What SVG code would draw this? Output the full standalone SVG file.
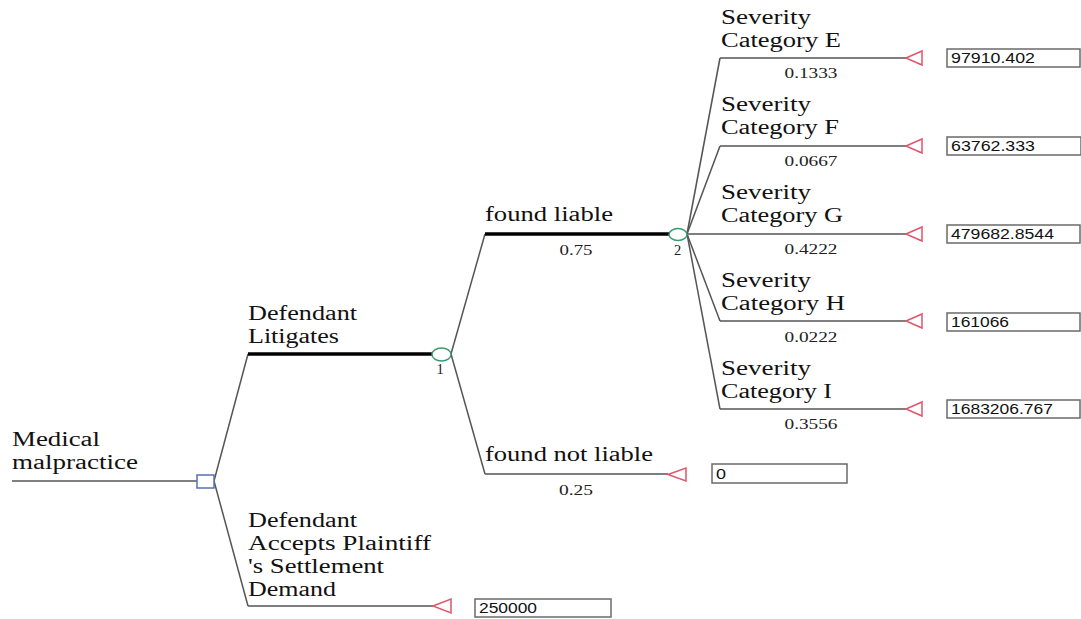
<svg xmlns="http://www.w3.org/2000/svg" width="1081" height="619" viewBox="0 0 1081 619">
<style>
.lbl{font-family:"Liberation Serif","Times New Roman",serif;font-size:20.5px;fill:#111}
.pr{font-family:"Liberation Serif","Times New Roman",serif;font-size:14.5px;fill:#222}
.val{font-family:"Liberation Sans",Arial,sans-serif;font-size:14px;fill:#111}
.ln{stroke:#555;stroke-width:1.5;fill:none}
.thick{stroke:#000;stroke-width:3.5;fill:none}
.tri{fill:#fff;stroke:#e0566a;stroke-width:1.5}
.box{fill:#fff;stroke:#6a6a6a;stroke-width:1.5}
.chance{fill:#fff;stroke:#3a9a6e;stroke-width:1.5}
.dec{fill:#fff;stroke:#5570b5;stroke-width:1.5}
</style>
<rect width="1081" height="619" fill="#fff"/>
<g id="connectors">
<line class="ln" x1="12" y1="481" x2="197" y2="481"/>
<line class="ln" x1="214" y1="481" x2="248" y2="354"/>
<line class="ln" x1="214" y1="481" x2="248" y2="606"/>
<line class="thick" x1="248" y1="354" x2="432" y2="354"/>
<line class="ln" x1="248" y1="606" x2="433" y2="606"/>
<line class="ln" x1="451" y1="354" x2="485" y2="234"/>
<line class="ln" x1="451" y1="354" x2="485" y2="474"/>
<line class="thick" x1="485" y1="234" x2="669" y2="234"/>
<line class="ln" x1="485" y1="474" x2="668" y2="474"/>
<line class="ln" x1="687" y1="234" x2="720" y2="58"/>
<line class="ln" x1="687" y1="234" x2="720" y2="146"/>
<line class="ln" x1="687" y1="234" x2="720" y2="234"/>
<line class="ln" x1="687" y1="234" x2="720" y2="321"/>
<line class="ln" x1="687" y1="234" x2="720" y2="409"/>
<line class="ln" x1="720" y1="58" x2="906" y2="58"/>
<line class="ln" x1="720" y1="146" x2="906" y2="146"/>
<line class="ln" x1="720" y1="234" x2="906" y2="234"/>
<line class="ln" x1="720" y1="321" x2="906" y2="321"/>
<line class="ln" x1="720" y1="409" x2="906" y2="409"/>
</g>
<g id="root">
<text class="lbl" x="12" y="446" textLength="88" lengthAdjust="spacingAndGlyphs">Medical</text>
<text class="lbl" x="12" y="469" textLength="126" lengthAdjust="spacingAndGlyphs">malpractice</text>
<rect class="dec" x="197" y="475" width="17" height="13"/>
</g>
<g id="litigates">
<text class="lbl" x="248" y="320" textLength="109" lengthAdjust="spacingAndGlyphs">Defendant</text>
<text class="lbl" x="248" y="343" textLength="91" lengthAdjust="spacingAndGlyphs">Litigates</text>
<ellipse class="chance" cx="441.5" cy="354.5" rx="9.5" ry="6.5"/>
<text class="pr" x="440" y="374" text-anchor="middle">1</text>
</g>
<g id="accepts">
<text class="lbl" x="248" y="527" textLength="109" lengthAdjust="spacingAndGlyphs">Defendant</text>
<text class="lbl" x="248" y="550" textLength="183" lengthAdjust="spacingAndGlyphs">Accepts Plaintiff</text>
<text class="lbl" x="248" y="573" textLength="136" lengthAdjust="spacingAndGlyphs">'s Settlement</text>
<text class="lbl" x="248" y="596" textLength="88" lengthAdjust="spacingAndGlyphs">Demand</text>
<polygon class="tri" points="433,606 451,599 451,613"/>
<rect class="box" x="475" y="599" width="136" height="18"/>
<text class="val" x="479" y="613" textLength="58" lengthAdjust="spacingAndGlyphs">250000</text>
</g>
<g id="liable">
<text class="lbl" x="485" y="221" textLength="128" lengthAdjust="spacingAndGlyphs">found liable</text>
<text class="pr" x="576" y="255" text-anchor="middle" textLength="33" lengthAdjust="spacingAndGlyphs">0.75</text>
<ellipse class="chance" cx="678" cy="234.5" rx="9" ry="6"/>
<text class="pr" x="677.5" y="255" text-anchor="middle">2</text>
</g>
<g id="notliable">
<text class="lbl" x="485" y="461" textLength="168" lengthAdjust="spacingAndGlyphs">found not liable</text>
<text class="pr" x="576" y="495" text-anchor="middle" textLength="34" lengthAdjust="spacingAndGlyphs">0.25</text>
<polygon class="tri" points="668,474.5 686,468 686,481"/>
<rect class="box" x="712" y="464" width="135" height="19"/>
<text class="val" x="716" y="479" textLength="10" lengthAdjust="spacingAndGlyphs">0</text>
</g>
<g id="catE">
<text class="lbl" x="721" y="24" textLength="90" lengthAdjust="spacingAndGlyphs">Severity</text>
<text class="lbl" x="721" y="47" textLength="120" lengthAdjust="spacingAndGlyphs">Category E</text>
<text class="pr" x="811" y="78" text-anchor="middle" textLength="53" lengthAdjust="spacingAndGlyphs">0.1333</text>
<polygon class="tri" points="906,58 922,51 922,65"/>
<rect class="box" x="947" y="49" width="133" height="18"/>
<text class="val" x="951" y="63" textLength="84" lengthAdjust="spacingAndGlyphs">97910.402</text>
</g>
<g id="catF">
<text class="lbl" x="721" y="111" textLength="90" lengthAdjust="spacingAndGlyphs">Severity</text>
<text class="lbl" x="721" y="134" textLength="118" lengthAdjust="spacingAndGlyphs">Category F</text>
<text class="pr" x="811" y="166" text-anchor="middle" textLength="53" lengthAdjust="spacingAndGlyphs">0.0667</text>
<polygon class="tri" points="906,146 922,139 922,153"/>
<rect class="box" x="947" y="137" width="134" height="18"/>
<text class="val" x="951" y="151" textLength="84" lengthAdjust="spacingAndGlyphs">63762.333</text>
</g>
<g id="catG">
<text class="lbl" x="721" y="199" textLength="90" lengthAdjust="spacingAndGlyphs">Severity</text>
<text class="lbl" x="721" y="222" textLength="122" lengthAdjust="spacingAndGlyphs">Category G</text>
<text class="pr" x="811" y="254" text-anchor="middle" textLength="53" lengthAdjust="spacingAndGlyphs">0.4222</text>
<polygon class="tri" points="906,234 922,227 922,241"/>
<rect class="box" x="947" y="225" width="133" height="18"/>
<text class="val" x="951" y="239" textLength="103" lengthAdjust="spacingAndGlyphs">479682.8544</text>
</g>
<g id="catH">
<text class="lbl" x="721" y="287" textLength="90" lengthAdjust="spacingAndGlyphs">Severity</text>
<text class="lbl" x="721" y="310" textLength="124" lengthAdjust="spacingAndGlyphs">Category H</text>
<text class="pr" x="811" y="342" text-anchor="middle" textLength="53" lengthAdjust="spacingAndGlyphs">0.0222</text>
<polygon class="tri" points="906,321 922,314 922,328"/>
<rect class="box" x="947" y="313" width="133" height="18"/>
<text class="val" x="951" y="327" textLength="58" lengthAdjust="spacingAndGlyphs">161066</text>
</g>
<g id="catI">
<text class="lbl" x="721" y="375" textLength="90" lengthAdjust="spacingAndGlyphs">Severity</text>
<text class="lbl" x="721" y="398" textLength="111" lengthAdjust="spacingAndGlyphs">Category I</text>
<text class="pr" x="811" y="429" text-anchor="middle" textLength="53" lengthAdjust="spacingAndGlyphs">0.3556</text>
<polygon class="tri" points="906,409 922,402 922,416"/>
<rect class="box" x="947" y="400" width="133" height="18"/>
<text class="val" x="951" y="414" textLength="102" lengthAdjust="spacingAndGlyphs">1683206.767</text>
</g>
</svg>
